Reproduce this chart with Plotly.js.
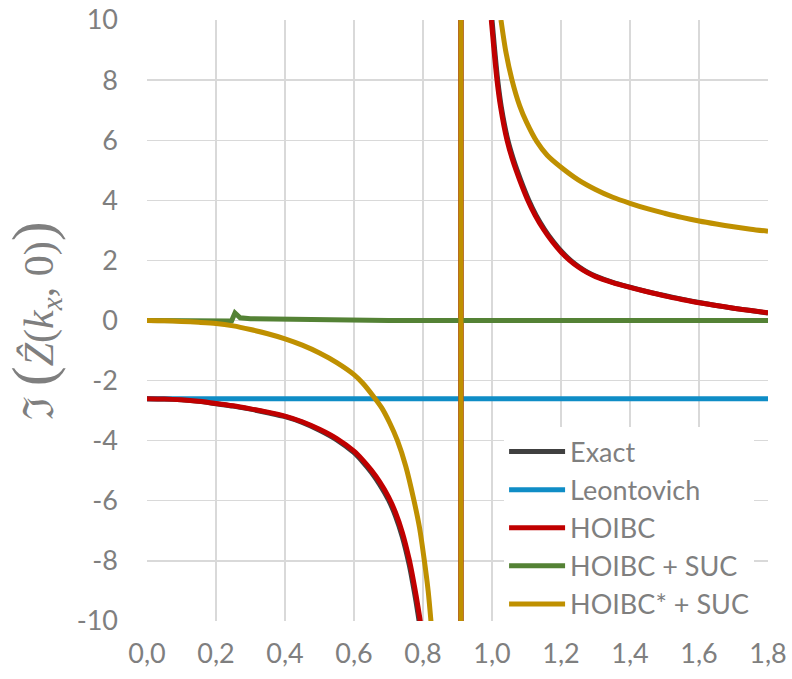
<!DOCTYPE html>
<html>
<head>
<meta charset="utf-8">
<script src="https://cdn.plot.ly/plotly-3.0.1.min.js"></script>
<style>html,body{margin:0;padding:0;background:#fff;}#chart{width:792px;height:679px;}</style>
</head>
<body>
<div id="chart"></div>
<script>
// Series data. Each curve has a pole near x = 0.91:
// branches are separated by nulls and the jump across the pole is its own short piece.
const exactX = [0.00, 0.05, 0.10, 0.15, 0.20, 0.25, 0.30, 0.35, 0.40, 0.45, 0.50, 0.55, 0.60, 0.625, 0.65, 0.675, 0.70, 0.72, 0.74, 0.76, 0.77, 0.78, 0.79, 0.80,
  null, 0.91, 0.91, null,
  1.000, 1.007, 1.0165, 1.027, 1.046, 1.063, 1.083, 1.106, 1.128, 1.153, 1.178, 1.203, 1.228, 1.253, 1.278, 1.30, 1.35, 1.40, 1.45, 1.50, 1.55, 1.60, 1.65, 1.70, 1.75, 1.80];
const exactY = [-2.60, -2.61, -2.64, -2.69, -2.77, -2.85, -2.95, -3.07, -3.20, -3.39, -3.65, -3.97, -4.40, -4.70, -5.05, -5.47, -5.97, -6.50, -7.20, -8.13, -8.72, -9.37, -10.1, -10.9,
  null, -1000, 1000, null,
  10.0, 9.1, 8.0, 7.1, 6.0, 5.33, 4.68, 4.02, 3.50, 3.02, 2.62, 2.28, 2.00, 1.78, 1.60, 1.48, 1.27, 1.11, 0.96, 0.83, 0.71, 0.60, 0.50, 0.41, 0.33, 0.25];

const leonX = [0.00, 0.60, 1.20, 1.80];
const leonY = [-2.60, -2.60, -2.60, -2.60];

const hoibcX = [0.00, 0.05, 0.10, 0.15, 0.20, 0.25, 0.30, 0.35, 0.40, 0.45, 0.50, 0.55, 0.60, 0.625, 0.65, 0.675, 0.70, 0.72, 0.74, 0.76, 0.77, 0.78, 0.79, 0.80,
  null, 0.91, 0.91, null,
  0.998, 1.005, 1.0145, 1.025, 1.0435, 1.06, 1.08, 1.103, 1.125, 1.15, 1.175, 1.20, 1.225, 1.25, 1.275, 1.30, 1.35, 1.40, 1.45, 1.50, 1.55, 1.60, 1.65, 1.70, 1.75, 1.80];
const hoibcY = [-2.60, -2.61, -2.64, -2.69, -2.76, -2.84, -2.94, -3.05, -3.18, -3.37, -3.62, -3.93, -4.35, -4.64, -4.98, -5.38, -5.87, -6.38, -7.05, -7.95, -8.52, -9.15, -9.85, -10.65,
  null, -1000, 1000, null,
  10.0, 9.1, 8.0, 7.1, 6.0, 5.33, 4.68, 4.02, 3.50, 3.02, 2.62, 2.28, 2.00, 1.78, 1.60, 1.46, 1.26, 1.10, 0.955, 0.82, 0.70, 0.59, 0.50, 0.41, 0.33, 0.26];

const sucX = [0.00, 0.10, 0.20, 0.245, 0.255, 0.27, 0.30, 0.40, 0.53, 0.70, 1.00, 1.40, 1.80];
const sucY = [0.00, 0.00, -0.01, -0.02, 0.25, 0.09, 0.06, 0.04, 0.03, 0.00, 0.00, 0.00, 0.00];

const starX = [0.00, 0.05, 0.10, 0.15, 0.20, 0.25, 0.30, 0.35, 0.40, 0.45, 0.50, 0.55, 0.60, 0.625, 0.656, 0.68, 0.704, 0.726, 0.75, 0.774, 0.79, 0.804, 0.815, 0.823, 0.83,
  null, 0.91, 0.91, null,
  1.026, 1.04, 1.058, 1.08, 1.10, 1.13, 1.16, 1.20, 1.25, 1.30, 1.35, 1.40, 1.45, 1.50, 1.55, 1.60, 1.65, 1.70, 1.75, 1.80];
const starY = [0.00, -0.01, -0.03, -0.06, -0.10, -0.18, -0.30, -0.44, -0.61, -0.82, -1.08, -1.40, -1.80, -2.08, -2.52, -2.90, -3.42, -4.0, -4.85, -6.0, -6.9, -8.0, -9.0, -10.0, -11.0,
  null, -1000, 1000, null,
  10.0, 8.95, 8.0, 7.15, 6.6, 5.95, 5.5, 5.1, 4.68, 4.36, 4.1, 3.9, 3.72, 3.57, 3.43, 3.31, 3.21, 3.12, 3.04, 2.97];

const names = ['Exact', 'Leontovich', 'HOIBC', 'HOIBC + SUC', 'HOIBC* + SUC'];
const colors = ['#404040', '#0F8DC6', '#C00000', '#548235', '#BF9000'];

const yTickVals = [-10, -8, -6, -4, -2, 0, 2, 4, 6, 8, 10];
const yTickText = ['-10', '-8', '-6', '-4', '-2', '0', '2', '4', '6', '8', '10'];
const xTickVals = [0.0, 0.2, 0.4, 0.6, 0.8, 1.0, 1.2, 1.4, 1.6, 1.8];
const xTickText = ['0,0', '0,2', '0,4', '0,6', '0,8', '1,0', '1,2', '1,4', '1,6', '1,8'];

const xs = [exactX, leonX, hoibcX, sucX, starX];
const ys = [exactY, leonY, hoibcY, sucY, starY];

const traces = names.map((n, i) => ({
  type: 'scatter', mode: 'lines', name: n,
  x: xs[i], y: ys[i],
  connectgaps: false,
  line: {color: colors[i], width: 5, shape: (i === 3 ? 'linear' : 'spline'), smoothing: 0.8},
  cliponaxis: true
}));

const tickFont = {family: 'Lato, "Open Sans", sans-serif', size: 27, color: '#7F7F7F'};

const layout = {
  width: 792, height: 679,
  margin: {l: 147, r: 24, t: 20, b: 58},
  paper_bgcolor: '#ffffff', plot_bgcolor: '#ffffff',
  showlegend: true,
  xaxis: {
    range: [0, 1.8], tickvals: xTickVals, ticktext: xTickText,
    showgrid: true, gridcolor: '#D9D9D9', gridwidth: 1.3,
    zeroline: false, showline: false, ticks: '',
    tickfont: tickFont, ticklabelstandoff: 14
  },
  yaxis: {
    range: [-10, 10], tickvals: yTickVals, ticktext: yTickText,
    showgrid: true, gridcolor: '#D9D9D9', gridwidth: 1.3,
    zeroline: false, showline: false, ticks: '',
    tickfont: tickFont, ticklabelstandoff: 28,
    title: {
      text: 'ℑ <span style="font-size:60px">(</span><i>Ẑ</i>(<i>k<sub>x</sub></i>, 0)<span style="font-size:60px">)</span>',
      font: {family: '"Liberation Serif", "DejaVu Serif", serif', size: 42, color: '#7F7F7F'},
      standoff: 10
    }
  },
  legend: {
    x: 0.575, y: 0.322, xanchor: 'left', yanchor: 'top',
    bgcolor: '#ffffff', borderwidth: 0,
    font: {family: 'Lato, "Open Sans", sans-serif', size: 27, color: '#7F7F7F'},
    itemwidth: 56, tracegroupgap: 0
  }
};

Plotly.newPlot('chart', traces, layout, {displayModeBar: false, staticPlot: true});
</script>
</body>
</html>
